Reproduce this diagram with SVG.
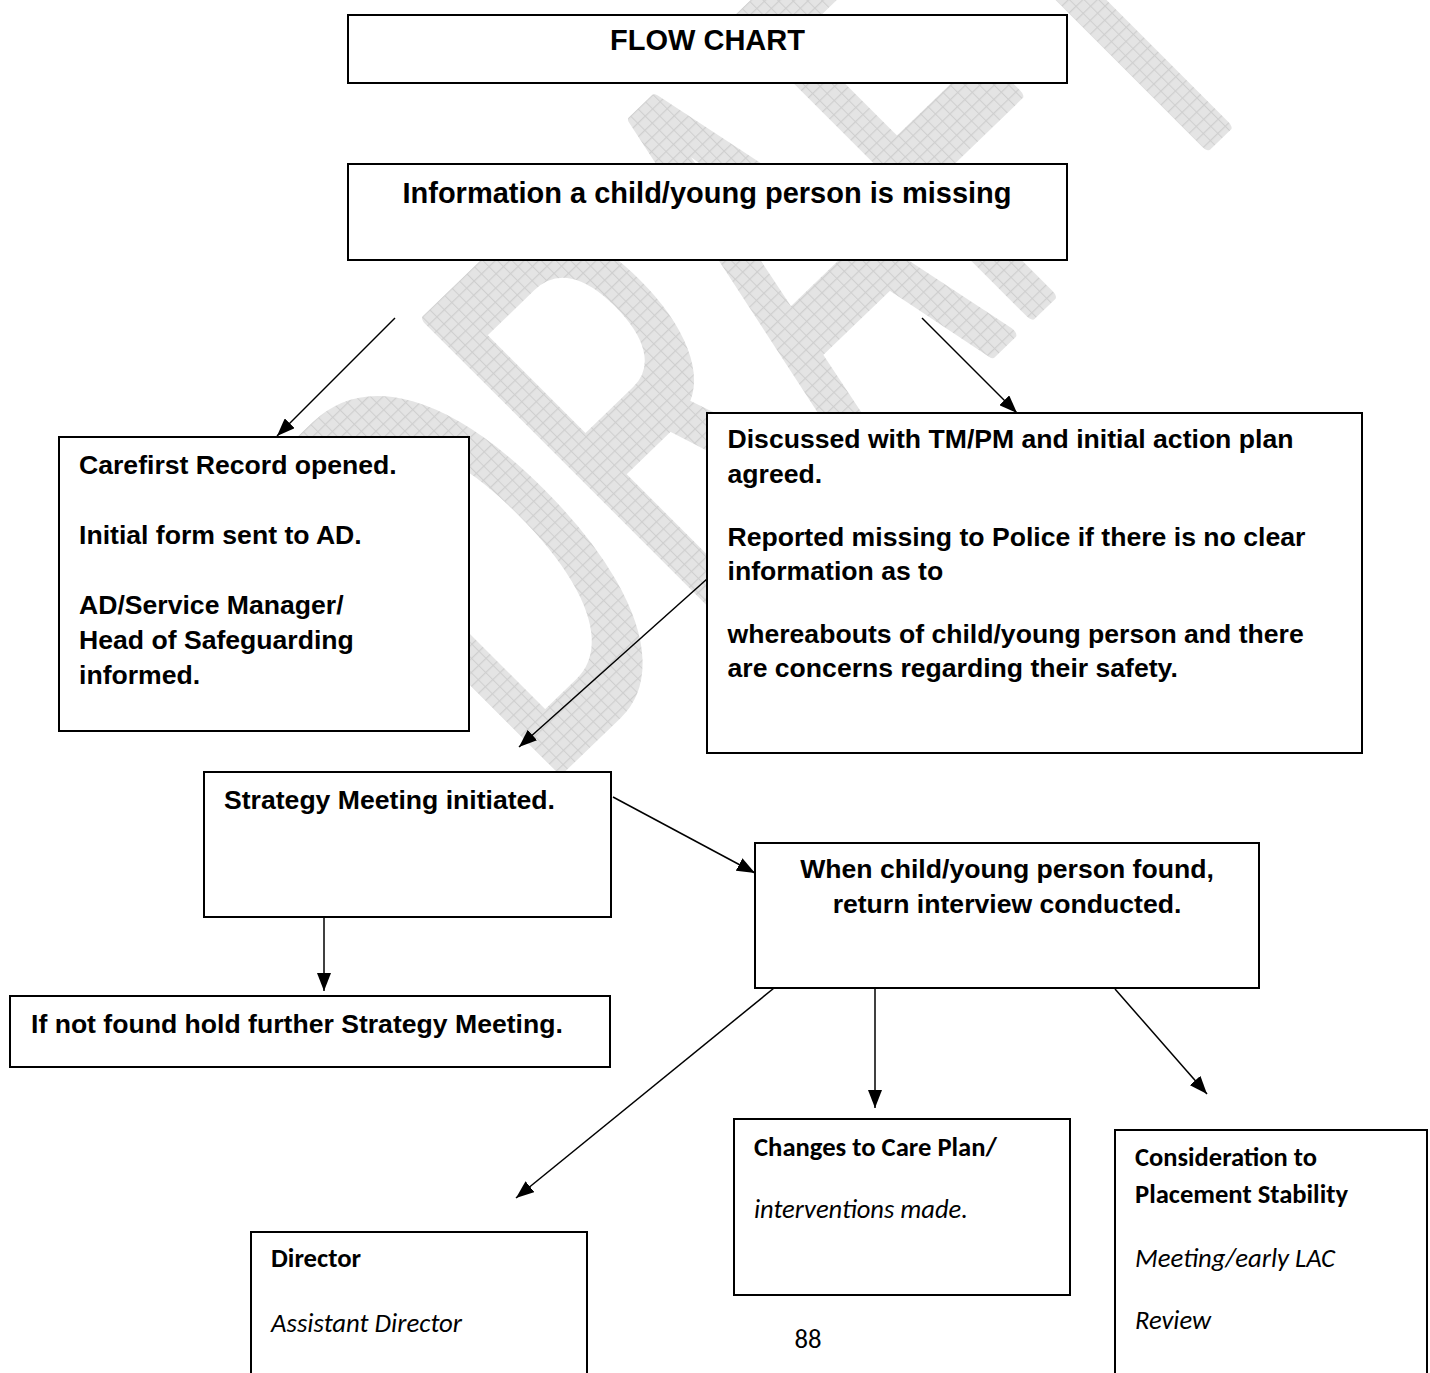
<svg xmlns="http://www.w3.org/2000/svg" width="1430" height="1373" viewBox="0 0 1430 1373">
<style>
.box{fill:#fff;stroke:#000;stroke-width:2}
.t{font-family:"Liberation Sans",Arial,sans-serif;font-weight:bold;font-size:26.6px;fill:#000}
.big{font-size:29px}
.c{font-family:Carlito,Lato,"Open Sans",sans-serif;font-size:26.7px;fill:#000}
.cb{font-weight:bold}
.ci{font-style:italic}
.ln{stroke:#000;stroke-width:1.5;fill:none;marker-end:url(#ah)}
</style>
<defs>
<marker id="ah" viewBox="0 0 18 14" refX="18" refY="7" markerWidth="18" markerHeight="14" markerUnits="userSpaceOnUse" orient="auto">
<path d="M0,0 L18,7 L0,14 z" fill="#000"/>
</marker>
<pattern id="wm" patternUnits="userSpaceOnUse" width="20" height="10">
<rect width="20" height="10" fill="#e4e4e4"/>
<path d="M0,0.6 H20" stroke="#cfcfcf" stroke-width="1.2"/>
<path d="M1,0 V10" stroke="#cfcfcf" stroke-width="2"/>
</pattern>
</defs>
<rect width="1430" height="1373" fill="#fff"/>
<g id="watermark" transform="matrix(0.372 -0.3586 0.707 0.707 540 786)">
<text x="0" y="0" font-family="Liberation Sans, Arial, sans-serif" font-size="600" fill="url(#wm)" stroke="url(#wm)" stroke-width="14" stroke-linejoin="round">DRAFT</text>
</g>
<g id="connectors">
<line class="ln" x1="395" y1="318" x2="277" y2="436"/>
<line class="ln" x1="922" y1="318" x2="1017" y2="413"/>
<line class="ln" x1="707" y1="579" x2="519" y2="747"/>
<line class="ln" x1="613" y1="797" x2="755" y2="873"/>
<line class="ln" x1="324" y1="918" x2="324" y2="991"/>
<line class="ln" x1="779" y1="984" x2="516" y2="1198"/>
<line class="ln" x1="875" y1="989" x2="875" y2="1108"/>
<line class="ln" x1="1115" y1="989" x2="1207" y2="1094"/>
</g>
<g id="n-flowchart">
<rect class="box" x="348" y="15" width="719" height="68"/>
<text class="t big" x="707.5" y="50" text-anchor="middle">FLOW CHART</text>
</g>
<g id="n-information">
<rect class="box" x="348" y="164" width="719" height="96"/>
<text class="t big" x="707" y="203" text-anchor="middle">Information a child/young person is missing</text>
</g>
<g id="n-carefirst">
<rect class="box" x="59" y="437" width="410" height="294"/>
<text class="t" x="79" y="474">Carefirst Record opened.</text>
<text class="t" x="79" y="544">Initial form sent to AD.</text>
<text class="t" x="79" y="614">AD/Service Manager/</text>
<text class="t" x="79" y="649">Head of Safeguarding</text>
<text class="t" x="79" y="684">informed.</text>
</g>
<g id="n-discussed">
<rect class="box" x="707" y="413" width="655" height="340"/>
<text class="t" x="727.5" y="448">Discussed with TM/PM and initial action plan</text>
<text class="t" x="727.5" y="483">agreed.</text>
<text class="t" x="727.5" y="546">Reported missing to Police if there is no clear</text>
<text class="t" x="727.5" y="580">information as to</text>
<text class="t" x="727.5" y="643">whereabouts of child/young person and there</text>
<text class="t" x="727.5" y="677">are concerns regarding their safety.</text>
</g>
<g id="n-strategy">
<rect class="box" x="204" y="772" width="407" height="145"/>
<text class="t" x="224" y="809">Strategy Meeting initiated.</text>
</g>
<g id="n-notfound">
<rect class="box" x="10" y="996" width="600" height="71"/>
<text class="t" x="31" y="1033">If not found hold further Strategy Meeting.</text>
</g>
<g id="n-when">
<rect class="box" x="755" y="843" width="504" height="145"/>
<text class="t" x="1007" y="878" text-anchor="middle">When child/young person found,</text>
<text class="t" x="1007" y="913" text-anchor="middle">return interview conducted.</text>
</g>
<g id="n-changes">
<rect class="box" x="734" y="1119" width="336" height="176"/>
<text class="c cb" x="754" y="1156" textLength="243" lengthAdjust="spacingAndGlyphs">Changes to Care Plan/</text>
<text class="c ci" x="754" y="1218" textLength="214" lengthAdjust="spacingAndGlyphs">interventions made.</text>
</g>
<g id="n-consideration">
<rect class="box" x="1115" y="1130" width="312" height="260"/>
<text class="c cb" x="1135" y="1166" textLength="182" lengthAdjust="spacingAndGlyphs">Consideration to</text>
<text class="c cb" x="1135" y="1203" textLength="213" lengthAdjust="spacingAndGlyphs">Placement Stability</text>
<text class="c ci" x="1135" y="1267" textLength="200" lengthAdjust="spacingAndGlyphs">Meeting/early LAC</text>
<text class="c ci" x="1135" y="1329" textLength="76" lengthAdjust="spacingAndGlyphs">Review</text>
</g>
<g id="n-director">
<rect class="box" x="251" y="1232" width="336" height="160"/>
<text class="c cb" x="271" y="1267" textLength="90" lengthAdjust="spacingAndGlyphs">Director</text>
<text class="c ci" x="271" y="1332" textLength="191" lengthAdjust="spacingAndGlyphs">Assistant Director</text>
</g>
<g id="page-number">
<text class="c" x="808" y="1348" font-size="34" text-anchor="middle">88</text>
</g>
</svg>
